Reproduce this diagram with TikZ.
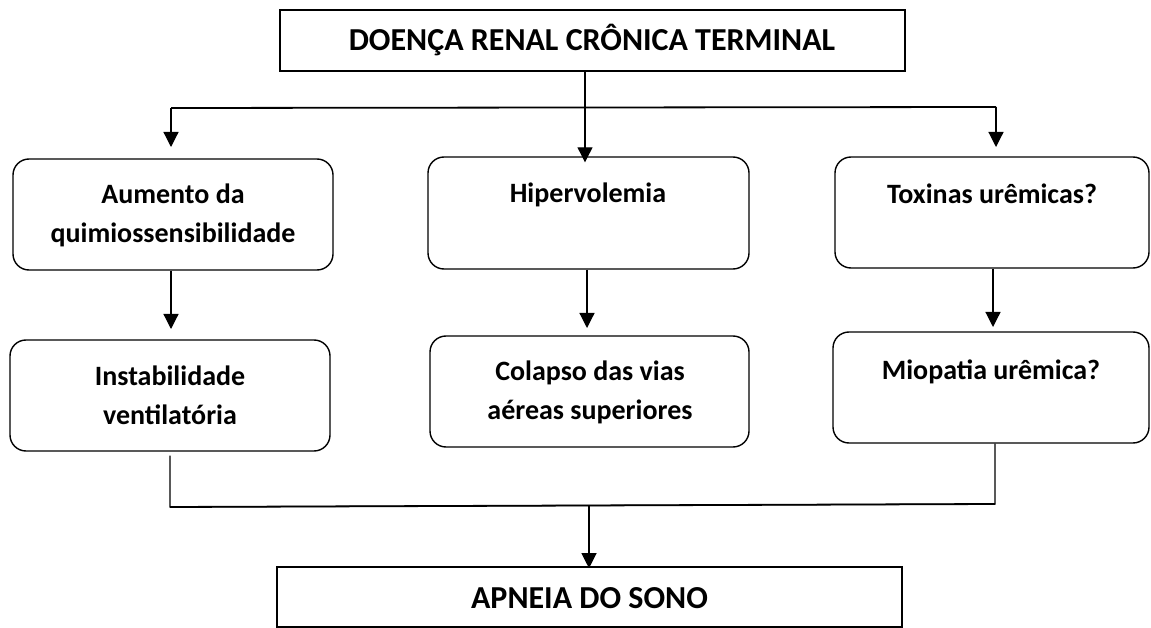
\documentclass[tikz,border=0pt]{standalone}
\usepackage{fontspec}
\setmainfont{Carlito}
\usetikzlibrary{arrows.meta}
\begin{document}
\begin{tikzpicture}[x=1pt,y=-1pt,
  box/.style={draw,line width=1.6pt,rectangle,inner sep=0pt},
  rbox/.style={draw,line width=1.4pt,rounded corners=16pt,inner sep=0pt},
  txt/.style={font=\bfseries\fontsize{28}{39}\selectfont,align=center,inner sep=0pt},
  big/.style={font=\bfseries\fontsize{32}{38}\selectfont,inner sep=0pt},
  conn/.style={line width=1.2pt},
  arr/.style={line width=1.2pt,-{Triangle[length=15pt,width=15pt]}}]
\useasboundingbox (0,0) rectangle (1151,628);
% boxes
\node[box,minimum width=625,minimum height=61] (top) at (592.5,40.5) {};
\node[big] (toptxt) at (592,40) {DOENÇA RENAL CRÔNICA TERMINAL};
\node[rbox,minimum width=320,minimum height=111] (a1) at (173,214.5) {};
\node[rbox,minimum width=321,minimum height=112] (m1) at (588.5,213) {};
\node[rbox,minimum width=314,minimum height=111] (r1) at (992,212.5) {};
\node[rbox,minimum width=320,minimum height=111] (a2) at (170,395.5) {};
\node[rbox,minimum width=319,minimum height=111] (m2) at (589.5,391.5) {};
\node[rbox,minimum width=316,minimum height=111] (r2) at (991,387.5) {};
\node[box,minimum width=625,minimum height=60] (bot) at (589.5,597) {};
% texts
\node[txt] (a1t) at (173,215) {Aumento da\\quimiossensibilidade};
\node[txt] (m1t) at (588,195) {Hipervolemia};
\node[txt] (r1t) at (992,194) {Toxinas urêmicas?};
\node[txt] (a2t) at (170,395) {Instabilidade\\ventilatória};
\node[txt] (m2t) at (590,392) {Colapso das vias\\aéreas superiores};
\node[txt] (r2t) at (991,372) {Miopatia urêmica?};
\node[big] (bott) at (589.5,598) {APNEIA DO SONO};
% top connectors
\coordinate (hL) at (171,108);
\coordinate (hR) at (996,107);
\draw[line width=1.8pt] (hL) -- (hR);
\draw[arr] ([xshift=-7.5]top.south) -- ([xshift=-3.5,yshift=-6]m1.north);
\draw[arr] (hL) -- (171,147);
\draw[arr] (hR) -- (996,147);
% row connectors
\draw[arr] (a1.south -| 171,0) -- (171,329);
\draw[arr] (m1.south -| 587,0) -- (587,328);
\draw[arr] (r1.south -| 993,0) -- (993,327);
% bottom connectors
\coordinate (bL) at (170,507);
\coordinate (bR) at (995,504);
\coordinate (bM) at (589,505.5);
\draw[conn] ([yshift=-4]a2.south -| bL) -- (bL) -- (bR) -- (r2.south -| bR);
\draw[line width=1.8pt] (bL) -- (bR);
\draw[arr] (bM) -- ([yshift=-2]bot.north -| bM);
\end{tikzpicture}
\end{document}
